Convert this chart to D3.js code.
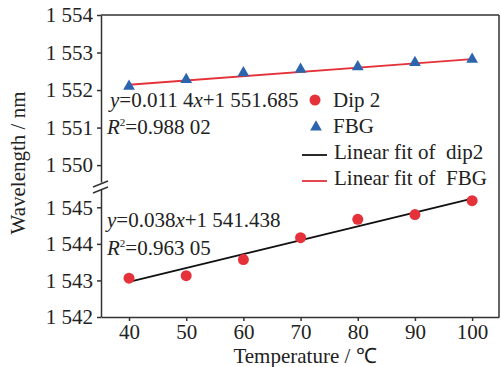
<!DOCTYPE html>
<html>
<head>
<meta charset="utf-8">
<script src="https://cdn.jsdelivr.net/npm/d3@7"></script>
<style>
  body { margin: 0; background: #fff; }
  svg { display: block; font-family: 'Liberation Serif', 'Times New Roman', serif; }
  text { white-space: pre; }
</style>
</head>
<body>
<svg id="chart"></svg>
<script>
const temps = [40, 50, 60, 70, 80, 90, 100]
const dip2 = [1543.06, 1543.13, 1543.57, 1544.17, 1544.67, 1544.8, 1545.18]
const fbg = [1552.1, 1552.28, 1552.46, 1552.55, 1552.62, 1552.73, 1552.82]
const dip2Fit = [0.038, 1541.438]
const fbgFit = [0.0114, 1551.685]
const xTicks = [40, 50, 60, 70, 80, 90, 100]
const upperTicks = [1550, 1551, 1552, 1553, 1554]
const lowerTicks = [1542, 1543, 1544, 1545]
const legendLabels = ['Dip 2', 'FBG', 'Linear fit of  dip2', 'Linear fit of  FBG']

const width = 501
const height = 367
const margin = { top: 15, left: 101, right: 499, bottom: 317 }
const breakTop = 182
const breakBottom = 189
const axisColor = '#333'
const red = '#e5323a'
const blue = '#2c64ad'
const fontSize = 21

const svg = d3.select('#chart').attr('width', width).attr('height', height)

const fmt = d3.formatLocale({ decimal: '.', thousands: ' ', grouping: [3], currency: ['', ''] }).format(',d')

const xScale = d3.scaleLinear().domain([35.1, 104.7]).range([margin.left, margin.right])
const yUpper = d3.scaleLinear().domain([1549.55, 1554]).range([breakTop, margin.top])
const yLower = d3.scaleLinear().domain([1542, 1545.5]).range([margin.bottom, breakBottom])

// frame: top and right lines
svg.append('line')
  .attr('x1', margin.left).attr('x2', margin.right)
  .attr('y1', margin.top).attr('y2', margin.top)
  .attr('stroke', axisColor).attr('stroke-width', 1.5)
svg.append('line')
  .attr('x1', margin.right).attr('x2', margin.right)
  .attr('y1', margin.top).attr('y2', margin.bottom)
  .attr('stroke', axisColor).attr('stroke-width', 1.5)

const styleAxis = (g) => {
  g.selectAll('path, line').attr('stroke', axisColor).attr('stroke-width', 1.5)
  g.selectAll('text').attr('fill', '#222').style('font-size', fontSize + 'px')
    .style('font-family', "'Liberation Serif', serif")
}

svg.append('g')
  .attr('transform', `translate(${margin.left},0)`)
  .call(d3.axisLeft(yUpper).tickValues(upperTicks).tickFormat(fmt).tickSize(4).tickSizeOuter(0).tickPadding(4))
  .call(styleAxis)

svg.append('g')
  .attr('transform', `translate(${margin.left},0)`)
  .call(d3.axisLeft(yLower).tickValues(lowerTicks).tickFormat(fmt).tickSize(4).tickSizeOuter(0).tickPadding(4))
  .call(styleAxis)

svg.append('g')
  .attr('transform', `translate(0,${margin.bottom})`)
  .call(d3.axisBottom(xScale).tickValues(xTicks).tickSize(4).tickSizeOuter(0).tickPadding(3))
  .call(styleAxis)

// axis break marks
;[breakTop + 2, breakBottom + 1].forEach((y) => {
  svg.append('line')
    .attr('x1', margin.left - 8).attr('y1', y + 3)
    .attr('x2', margin.left + 7).attr('y2', y - 3)
    .attr('stroke', axisColor).attr('stroke-width', 1.5)
})

// fit lines
const fitLine = (coef, scale) => d3.line()
  .x((d) => xScale(d))
  .y((d) => scale(coef[0] * d + coef[1]))

svg.append('path')
  .datum([temps[0], temps[temps.length - 1]])
  .attr('d', fitLine(fbgFit, yUpper))
  .attr('fill', 'none').attr('stroke', red).attr('stroke-width', 1.8)

svg.append('path')
  .datum([temps[0], temps[temps.length - 1]])
  .attr('d', fitLine(dip2Fit, yLower))
  .attr('fill', 'none').attr('stroke', '#111').attr('stroke-width', 1.8)

// points
const tri = d3.symbol().type(d3.symbolTriangle).size(60)

svg.append('g').selectAll('path')
  .data(temps)
  .enter()
  .append('path')
  .attr('d', tri)
  .attr('transform', (d, i) => `translate(${xScale(d)},${yUpper(fbg[i])})`)
  .attr('fill', blue)

svg.append('g').selectAll('circle')
  .data(temps)
  .enter()
  .append('circle')
  .attr('cx', (d) => xScale(d))
  .attr('cy', (d, i) => yLower(dip2[i]))
  .attr('r', 5.5)
  .attr('fill', red)

// equations
const eq = (x, y, slope, intercept) => {
  const t = svg.append('text').attr('x', x).attr('y', y).style('font-size', fontSize + 'px').attr('fill', '#222')
  t.append('tspan').style('font-style', 'italic').text('y')
  t.append('tspan').text('=' + slope)
  t.append('tspan').style('font-style', 'italic').text('x')
  t.append('tspan').text('+' + intercept)
}
const r2 = (x, y, value) => {
  const t = svg.append('text').attr('x', x).attr('y', y).style('font-size', fontSize + 'px').attr('fill', '#222')
  t.append('tspan').style('font-style', 'italic').text('R')
  t.append('tspan').attr('dy', -8).style('font-size', '11px').text('2')
  t.append('tspan').attr('dy', 8).text('=' + value)
}

eq(110, 107, '0.011 4', '1 551.685')
r2(107, 134, '0.988 02')
eq(107, 227, '0.038', '1 541.438')
r2(107, 255, '0.963 05')

// legend
const legend = svg.append('g')
const rowsY = [107, 133, 159, 185]
legend.append('circle').attr('cx', 315).attr('cy', rowsY[0] - 7).attr('r', 5.5).attr('fill', red)
legend.append('path').attr('d', tri).attr('transform', `translate(316,${rowsY[1] - 6})`).attr('fill', blue)
legend.append('line').attr('x1', 302).attr('x2', 327).attr('y1', rowsY[2] - 4).attr('y2', rowsY[2] - 4)
  .attr('stroke', '#111').attr('stroke-width', 1.8)
legend.append('line').attr('x1', 302).attr('x2', 327).attr('y1', rowsY[3] - 4).attr('y2', rowsY[3] - 4)
  .attr('stroke', red).attr('stroke-width', 1.8)
legend.selectAll('text')
  .data(legendLabels)
  .enter()
  .append('text')
  .attr('x', (d, i) => (i < 2 ? 333 : 334))
  .attr('y', (d, i) => rowsY[i])
  .style('font-size', fontSize + 'px')
  .attr('fill', '#222')
  .text((d) => d)

// axis titles
svg.append('text')
  .attr('x', 305).attr('y', 363)
  .attr('text-anchor', 'middle')
  .style('font-size', fontSize + 'px')
  .attr('fill', '#222')
  .text('Temperature / ℃')

svg.append('text')
  .attr('transform', 'translate(25,163) rotate(-90)')
  .attr('text-anchor', 'middle')
  .style('font-size', fontSize + 'px')
  .attr('fill', '#222')
  .text('Wavelength / nm')
</script>
</body>
</html>
